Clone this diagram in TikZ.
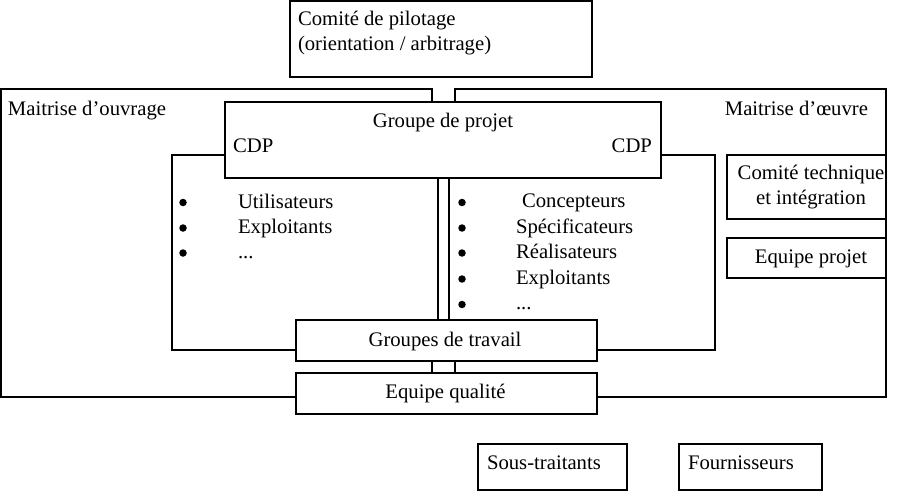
\documentclass[tikz,border=0pt]{standalone}
\usepackage{fontspec}
\setmainfont{Liberation Serif}
\begin{document}
\begin{tikzpicture}[x=1pt,y=-1pt,
  every node/.style={inner sep=0pt, outer sep=0pt},
  frame/.style={draw=black, line width=1.2pt, anchor=north west},
  box/.style={frame, fill=white},
  dot/.style={circle, fill=black, minimum size=7.5pt},
  txt/.style={font=\fontsize{20.7}{25}\selectfont, anchor=base west},
  txtc/.style={txt, anchor=base},
  txte/.style={txt, anchor=base east},
]
\useasboundingbox (0,0) rectangle (899,492);
% large frames
\node[frame, minimum width=431pt, minimum height=308pt] (moa) at (1,89) {};
\node[frame, minimum width=431pt, minimum height=308pt] (moe) at (455,89) {};
\node[box, minimum width=266pt, minimum height=195pt] (inl) at (172,155) {};
\node[box, minimum width=266pt, minimum height=195pt] (inr) at (449,155) {};
% boxes
\node[box, minimum width=302pt, minimum height=76pt] (pil) at (290,1) {};
\node[box, minimum width=436pt, minimum height=76pt] (gp) at (225,102) {};
\node[box, minimum width=301pt, minimum height=41pt] (gt) at (296,320) {};
\node[box, minimum width=301pt, minimum height=41pt] (eq) at (296,373) {};
\node[box, minimum width=159pt, minimum height=64pt] (ct) at (727,155) {};
\node[box, minimum width=159pt, minimum height=40pt] (ep) at (727,238) {};
\node[box, minimum width=149pt, minimum height=46pt] (st) at (478,444) {};
\node[box, minimum width=143pt, minimum height=46pt] (fo) at (679,444) {};
% texts
\node[txt] (pil1) at (298,26) {Comité de pilotage};
\node[txt] (pil2) at (298,51) {(orientation / arbitrage)};
\node[txt] (moat) at (8,116) {Maitrise d’ouvrage};
\node[txte] (moet) at (868,116) {Maitrise d’œuvre};
\node[txtc] (gpt) at (443,128) {Groupe de projet};
\node[txt] (cdpl) at (233,153) {CDP};
\node[txte] (cdpr) at (652,153) {CDP};
% left list
\node[dot] (bl1) at (183,202.5) {};
\node[dot] (bl2) at (183,228) {};
\node[dot] (bl3) at (183,253) {};
\node[txt] (tl1) at (238,208) {Utilisateurs};
\node[txt] (tl2) at (238,233) {Exploitants};
\node[txt] (tl3) at (238,258) {...};
% right list
\node[dot] (br1) at (462,202.5) {};
\node[dot] (br2) at (462,228) {};
\node[dot] (br3) at (462,253) {};
\node[dot] (br4) at (462,279) {};
\node[dot] (br5) at (462,304.5) {};
\node[txt] (tr1) at (522,207) {Concepteurs};
\node[txt] (tr2) at (516,233) {Spécificateurs};
\node[txt] (tr3) at (516,258) {Réalisateurs};
\node[txt] (tr4) at (516,284) {Exploitants};
\node[txt] (tr5) at (516,309) {...};
% box texts
\node[txtc] (gtt) at (445,346) {Groupes de travail};
\node[txtc] (eqt) at (445.5,398) {Equipe qualité};
\node[txtc] (ct1) at (811,179) {Comité technique};
\node[txtc] (ct2) at (811,204) {et intégration};
\node[txtc] (ept) at (811,263) {Equipe projet};
\node[txt] (stt) at (487,469) {Sous-traitants};
\node[txt] (fot) at (688,469) {Fournisseurs};
\end{tikzpicture}
\end{document}
